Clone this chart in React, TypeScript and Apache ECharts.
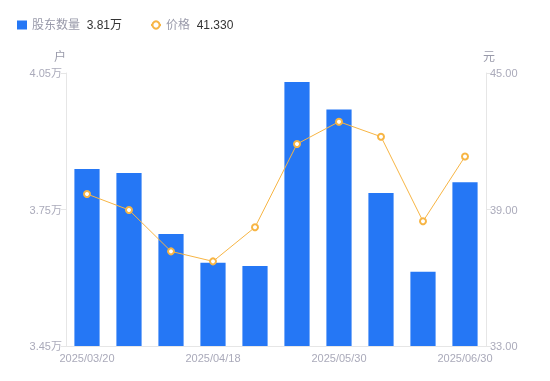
import React, { useEffect, useRef } from "react";
import * as echarts from "echarts";

const categories = [
  "2025/03/20", "2025/03/31", "2025/04/10", "2025/04/18", "2025/04/30",
  "2025/05/20", "2025/05/30", "2025/06/10", "2025/06/20", "2025/06/30",
];
// shareholders, in 万户
const holders = [3.839, 3.830, 3.696, 3.633, 3.626, 4.030, 3.970, 3.786, 3.613, 3.81];
// price, in 元
const prices = [39.68, 38.98, 37.16, 36.72, 38.22, 41.88, 42.86, 42.20, 38.48, 41.33];

const barName = "股东数量";
const lineName = "价格";

export default function App() {
  const ref = useRef<HTMLDivElement>(null);
  useEffect(() => {
    if (!ref.current) return;
    const chart = echarts.init(ref.current, null, { renderer: "svg" });
    const lastHolders = holders[holders.length - 1];
    const lastPrice = prices[prices.length - 1];
    const font = 'Arial, "Liberation Sans", "Noto Sans CJK SC", sans-serif';
    chart.setOption({
      animation: false,
      textStyle: { fontFamily: font },
      legend: {
        left: 12,
        top: 14,
        itemGap: 28,
        itemWidth: 10,
        itemHeight: 9,
        data: [
          { name: barName, icon: "rect", itemStyle: { color: "#2577f5" } },
          { name: lineName },
        ],
        formatter: (name: string) =>
          name === barName
            ? `{n|${name}}  {v|${lastHolders.toFixed(2)}万}`
            : `{n|${name}}  {v|${lastPrice.toFixed(3)}}`,
        textStyle: {
          rich: {
            n: { color: "#999aaa", fontSize: 12, fontFamily: font },
            v: { color: "#333333", fontSize: 12, fontFamily: font },
          },
        },
      },
      grid: { left: 66, right: 64, top: 73, bottom: 35 },
      xAxis: {
        type: "category",
        data: categories,
        axisLine: { lineStyle: { color: "#e6e6e6" } },
        axisTick: { show: false },
        axisLabel: { interval: 2, color: "#aaaaba", fontSize: 11, margin: 6 },
      },
      yAxis: [
        {
          type: "value",
          name: "户",
          nameTextStyle: { color: "#999aaa", fontSize: 12, padding: [0, 0, 0, -12] },
          nameGap: 10,
          min: 3.45,
          max: 4.05,
          interval: 0.3,
          splitLine: { show: false },
          axisLine: { show: true, lineStyle: { color: "#e6e6e6" } },
          axisTick: { show: true, length: 5, lineStyle: { color: "#e6e6e6" } },
          axisLabel: {
            color: "#aaaaba",
            fontSize: 11,
            margin: 4,
            formatter: (v: number) => v.toFixed(2) + "万",
          },
        },
        {
          type: "value",
          name: "元",
          nameTextStyle: { color: "#999aaa", fontSize: 12, padding: [0, 0, 0, 6] },
          nameGap: 10,
          min: 33,
          max: 45,
          interval: 6,
          splitLine: { show: false },
          axisLine: { show: true, lineStyle: { color: "#e6e6e6" } },
          axisTick: { show: true, length: 5, lineStyle: { color: "#e6e6e6" } },
          axisLabel: {
            color: "#aaaaba",
            fontSize: 11,
            margin: 4,
            formatter: (v: number) => v.toFixed(2),
          },
        },
      ],
      series: [
        {
          name: barName,
          type: "bar",
          yAxisIndex: 0,
          data: holders,
          barWidth: "60%",
          itemStyle: { color: "#2577f5" },
        },
        {
          name: lineName,
          type: "line",
          yAxisIndex: 1,
          data: prices,
          symbol: "emptyCircle",
          symbolSize: 6,
          lineStyle: { color: "#f7b544", width: 1 },
          itemStyle: { color: "#f7b544", borderWidth: 2 },
        },
      ],
    });
    return () => chart.dispose();
  }, []);
  return (
    <div
      ref={ref}
      style={{ position: "fixed", left: 0, top: 0, width: 550, height: 381 }}
    />
  );
}
